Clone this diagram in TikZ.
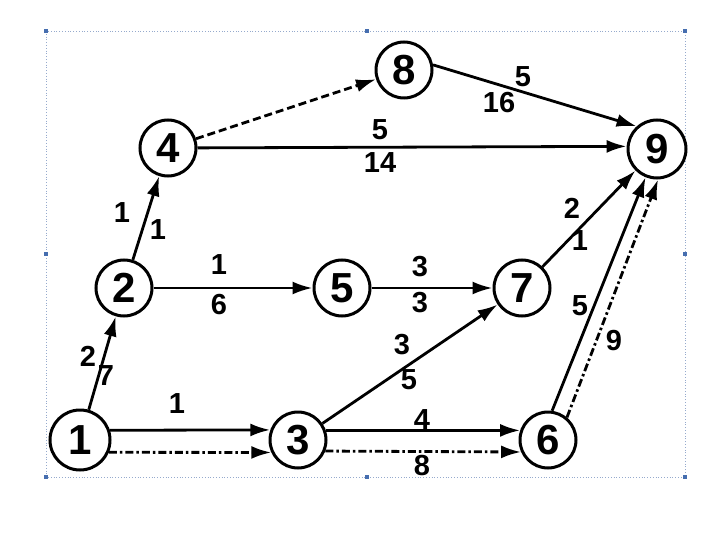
\documentclass[tikz,border=0pt]{standalone}
\usepackage{fontspec}
\setmainfont{Liberation Sans}
\usetikzlibrary{arrows.meta}
\definecolor{framec}{RGB}{150,170,205}
\definecolor{handlec}{RGB}{70,110,175}
\begin{document}
\begin{tikzpicture}[x=1pt,y=-1pt,
  ev/.style={draw,line width=3pt,circle,minimum size=56pt,inner sep=0pt,font=\fontsize{42}{42}\selectfont\bfseries},
  act/.style={line width=2.8pt,-{Latex[length=20pt,width=13pt]}},
  dashact/.style={act,dash pattern=on 8pt off 4pt},
  dotact/.style={act,dash pattern=on 8pt off 3pt on 2.5pt off 3pt},
  lbl/.style={font=\fontsize{29}{29}\selectfont\bfseries,inner sep=0pt},
  handle/.style={fill=handlec,minimum size=4pt,inner sep=0pt}]
\useasboundingbox (0,0) rectangle (720,540);
% frame
\draw[framec,line width=0.8pt,dotted] (46,31) rectangle (685,477);
\foreach \p/\n in {{(46,31)}/ha,{(367,31)}/hb,{(685,31)}/hc,{(46,254)}/hd,{(685,254)}/he,{(46,477)}/hf,{(367,477)}/hg,{(685,477)}/hh}
  \node[handle] (\n) at \p {};
% events
\node[ev,minimum size=60pt] (n1) at (80,440) {1};
\node[ev] (n2) at (124,288) {2};
\node[ev] (n3) at (298,440) {3};
\node[ev] (n4) at (168,148) {4};
\node[ev] (n5) at (342,288) {5};
\node[ev] (n6) at (548,440) {6};
\node[ev] (n7) at (522,288) {7};
\node[ev] (n8) at (404,70) {8};
\node[ev,minimum size=58pt] (n9) at (657,149) {9};
% activities
\draw[act] (n1) -- (n2);
\draw[act] (n2) -- (n4);
\draw[dashact] (n4) -- (n8);
\draw[act] (n8.10) -- (n9.132);
\draw[act] (n4) -- (n9.175);
\draw[act] (n2) -- (n5);
\draw[act] (n5) -- (n7);
\draw[act] (n7) -- (n9.-135);
\draw[act] (n3) -- (n7);
\draw[act] (n1.18) -- (n3.160);
\draw[dotact] (n1.-23) -- (n3.-155);
\draw[act] (n3.19) -- (n6.161);
\draw[dotact] (n3.-22) -- (n6.-156);
\draw[act] (n6.82) -- (n9.-112);
\draw[dotact] (n6.50) -- (n9.-88);
% labels
\node[lbl] (l12a) at (88,356) {2};
\node[lbl] (l12b) at (106,376) {7};
\node[lbl] (l24a) at (122,213) {1};
\node[lbl] (l24b) at (158,230) {1};
\node[lbl] (l89a) at (523,77) {5};
\node[lbl] (l89b) at (499,103) {16};
\node[lbl] (l49a) at (380,130) {5};
\node[lbl] (l49b) at (380,163) {14};
\node[lbl] (l25a) at (219,265) {1};
\node[lbl] (l25b) at (219,305) {6};
\node[lbl] (l57a) at (420,267) {3};
\node[lbl] (l57b) at (420,303) {3};
\node[lbl] (l79a) at (572,208) {2};
\node[lbl] (l79b) at (580,241) {1};
\node[lbl] (l37a) at (402,345) {3};
\node[lbl] (l37b) at (409,380) {5};
\node[lbl] (l13a) at (177,404) {1};
\node[lbl] (l36a) at (422,420) {4};
\node[lbl] (l36b) at (422,466) {8};
\node[lbl] (l69a) at (580,306) {5};
\node[lbl] (l69b) at (614,341) {9};
\end{tikzpicture}
\end{document}
